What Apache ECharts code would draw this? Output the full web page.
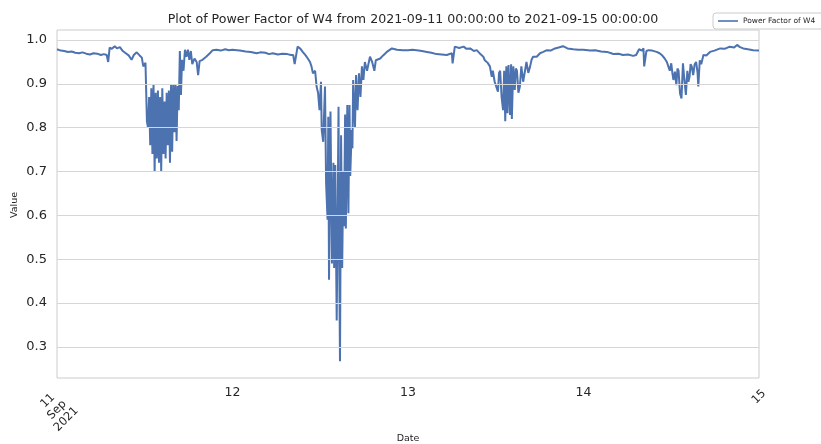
<!DOCTYPE html>
<html>
<head>
<meta charset="utf-8">
<title>Power Factor of W4</title>
<script src="https://cdn.jsdelivr.net/npm/echarts@6/dist/echarts.min.js"></script>
<style>
  html, body { margin: 0; padding: 0; background: #fff; }
  #chart { width: 821px; height: 444px; }
</style>
</head>
<body>
<div id="chart"></div>
<script>
// hours since midnight of each day, and the power factor read at that time
const sep11Hours = [0, 0.5, 1, 1.5, 2, 2.5, 3, 3.5, 4, 4.5, 5, 5.5, 6, 6.4, 6.8, 7.0, 7.2, 7.5, 7.9, 8.2, 8.6, 9.0, 9.4, 9.8, 10.2, 10.5, 10.9, 11.3, 11.6, 11.8, 12.1,
  12.3, 12.45, 12.6, 12.75, 12.9, 13.05, 13.2, 13.35, 13.5, 13.65, 13.8, 13.95, 14.1, 14.25, 14.4, 14.55, 14.7, 14.85, 15.0, 15.15, 15.3, 15.45, 15.6, 15.75, 15.9, 16.05, 16.2, 16.35, 16.5, 16.65, 16.8, 16.95,
  17.1, 17.3, 17.5, 17.7, 17.9, 18.1, 18.3, 18.5, 18.8, 19.1, 19.3, 19.5, 19.9, 20.4, 20.9, 21.3, 21.8, 22.4, 23.0, 23.5];
const sep11Values = [0.979, 0.976, 0.975, 0.973, 0.974, 0.971, 0.970, 0.972, 0.969, 0.967, 0.970, 0.969, 0.966, 0.968, 0.966, 0.950, 0.983, 0.980, 0.986, 0.981, 0.984, 0.975, 0.970, 0.965, 0.955, 0.966, 0.972, 0.965, 0.960, 0.940, 0.948,
  0.814, 0.800, 0.870, 0.760, 0.890, 0.740, 0.900, 0.700, 0.880, 0.730, 0.885, 0.720, 0.870, 0.700, 0.890, 0.740, 0.860, 0.730, 0.880, 0.760, 0.885, 0.720, 0.900, 0.745, 0.900, 0.790, 0.900, 0.770, 0.895, 0.840, 0.975, 0.875,
  0.955, 0.930, 0.978, 0.962, 0.978, 0.955, 0.975, 0.945, 0.958, 0.950, 0.920, 0.952, 0.955, 0.962, 0.970, 0.977, 0.978, 0.976, 0.979, 0.977];

const sep12Hours = [0, 0.6, 1.0, 1.8, 2.5, 3.3, 3.8, 4.5, 5.0, 5.5, 6.2, 6.8, 7.5, 8.0, 8.3, 8.5, 8.9, 9.3, 9.6, 10.0, 10.3, 10.6, 10.8, 11.0, 11.3, 11.5, 11.7, 11.9, 12.1, 12.2, 12.4, 12.65, 12.8,
  13.0, 13.1, 13.2, 13.4, 13.6, 13.8, 13.9, 14.05, 14.25, 14.5, 14.6, 14.7, 14.85, 15.0, 15.15, 15.25, 15.4, 15.5, 15.7, 15.85, 16.0, 16.1, 16.3, 16.4, 16.5, 16.75, 16.9,
  17.1, 17.3, 17.5, 17.7, 17.9, 18.1, 18.4, 18.8, 19.1, 19.4, 19.6, 20.2, 20.6, 21.1, 21.8, 22.5, 23.3];
const sep12Values = [0.978, 0.977, 0.976, 0.974, 0.973, 0.970, 0.972, 0.971, 0.968, 0.970, 0.967, 0.969, 0.968, 0.966, 0.966, 0.945, 0.985, 0.980, 0.973, 0.965, 0.958, 0.950, 0.940, 0.924, 0.930, 0.894, 0.880, 0.840, 0.905, 0.795, 0.768, 0.894, 0.673,
  0.590, 0.825, 0.453, 0.837, 0.490, 0.720, 0.480, 0.715, 0.360, 0.848, 0.490, 0.267, 0.783, 0.480, 0.700, 0.575, 0.830, 0.570, 0.852, 0.605, 0.852, 0.690, 0.795, 0.753, 0.909, 0.800, 0.920,
  0.840, 0.924, 0.870, 0.940, 0.909, 0.950, 0.930, 0.962, 0.950, 0.930, 0.954, 0.958, 0.965, 0.973, 0.981, 0.978, 0.977];

const sep13Hours = [0, 0.6, 1.2, 1.9, 2.6, 3.2, 3.9, 4.6, 5.3, 6.0, 6.1, 6.4, 7.0, 7.6, 8.0, 8.5, 9.0, 9.4, 9.9, 10.3, 10.5, 10.9, 11.2, 11.45, 11.6, 11.85, 12.1, 12.3, 12.45, 12.6, 12.8, 13.0,
  13.15, 13.3, 13.45, 13.6, 13.75, 13.95, 14.1, 14.2, 14.4, 14.6, 14.75, 14.9, 15.1, 15.3, 15.5, 15.75, 16.0, 16.2, 16.45, 16.7, 16.9, 17.1, 17.6, 18.05, 18.5, 19.0, 19.5, 20.1, 20.6, 21.2, 21.8, 22.6, 23.3];
const sep13Values = [0.977, 0.978, 0.977, 0.975, 0.973, 0.971, 0.968, 0.967, 0.966, 0.970, 0.947, 0.985, 0.982, 0.985, 0.980, 0.981, 0.975, 0.977, 0.968, 0.962, 0.954, 0.948, 0.940, 0.916, 0.930, 0.905, 0.909, 0.882, 0.925, 0.930, 0.870, 0.840,
  0.930, 0.815, 0.940, 0.833, 0.943, 0.829, 0.945, 0.820, 0.940, 0.886, 0.935, 0.930, 0.880, 0.894, 0.940, 0.905, 0.909, 0.950, 0.925, 0.940, 0.955, 0.962, 0.962, 0.970, 0.973, 0.977, 0.976, 0.981, 0.983, 0.986, 0.981, 0.979, 0.978];

const sep14Hours = [0, 0.9, 1.6, 2.4, 3.2, 3.8, 4.1, 4.8, 5.4, 6.1, 6.8, 7.2, 7.6, 8.0, 8.2, 8.3, 8.6, 8.9, 9.4, 10.0, 10.4, 10.7, 11.1, 11.4, 11.6, 11.8, 12.0, 12.15, 12.3, 12.5, 12.7, 12.85,
  13.0, 13.2, 13.4, 13.6, 13.8, 14.0, 14.2, 14.35, 14.5, 14.65, 14.8, 15.0, 15.2, 15.4, 15.6, 15.7, 15.9, 16.1, 16.4, 16.8, 17.3, 17.9, 18.7, 19.3, 20.0, 20.6, 21.0, 21.4, 21.85, 22.5, 23.2, 24.0];
const sep14Values = [0.978, 0.976, 0.977, 0.974, 0.973, 0.970, 0.968, 0.969, 0.966, 0.967, 0.964, 0.966, 0.979, 0.976, 0.981, 0.940, 0.975, 0.977, 0.976, 0.973, 0.970, 0.966, 0.958, 0.950, 0.940, 0.930, 0.947, 0.925, 0.909, 0.928, 0.897, 0.935,
  0.930, 0.878, 0.867, 0.947, 0.909, 0.875, 0.930, 0.905, 0.916, 0.945, 0.940, 0.920, 0.945, 0.950, 0.925, 0.894, 0.954, 0.945, 0.966, 0.965, 0.973, 0.976, 0.981, 0.980, 0.985, 0.983, 0.989, 0.984, 0.981, 0.979, 0.977, 0.976];

const yTicks = [0.3, 0.4, 0.5, 0.6, 0.7, 0.8, 0.9, 1.0];
const xTickDays = [12, 13, 14];

const dayMs = 24 * 3600 * 1000;
const startMs = Date.UTC(2021, 8, 11);
const endMs = Date.UTC(2021, 8, 15);

function toPoints(dayIndex, hours, values) {
  return hours.map((h, i) => [startMs + dayIndex * dayMs + h * 3600 * 1000, values[i]]);
}
const seriesData = [].concat(
  toPoints(0, sep11Hours, sep11Values),
  toPoints(1, sep12Hours, sep12Values),
  toPoints(2, sep13Hours, sep13Values),
  toPoints(3, sep14Hours, sep14Values)
);

const textColor = '#262626';
const fontFamily = 'DejaVu Sans';

// an x axis that only carries one rotated label (the first and last dates)
function edgeAxis(value, text, margin) {
  return {
    type: 'value',
    min: startMs,
    max: endMs,
    position: 'bottom',
    axisLine: { show: false },
    axisTick: { show: false },
    splitLine: { show: false },
    axisLabel: {
      customValues: [value],
      formatter: () => text,
      rotate: 45,
      align: 'center',
      verticalAlign: 'middle',
      showMinLabel: true,
      showMaxLabel: true,
      hideOverlap: false,
      fontSize: 11.5,
      lineHeight: 13,
      color: textColor,
      fontFamily: fontFamily,
      margin: margin
    }
  };
}

const chart = echarts.init(document.getElementById('chart'), null, { renderer: 'canvas' });
chart.setOption({
  animation: false,
  backgroundColor: '#ffffff',
  textStyle: { fontFamily: fontFamily },
  title: {
    text: 'Plot of Power Factor of W4 from 2021-09-11 00:00:00 to 2021-09-15 00:00:00',
    left: 408,
    top: 8,
    textAlign: 'center',
    textStyle: { fontSize: 12.6, fontWeight: 'normal', color: textColor, fontFamily: fontFamily }
  },
  legend: {
    data: [{ name: 'Power Factor of W4', icon: 'rect' }],
    left: 713,
    top: 13,
    padding: [3, 20, 3, 5],
    itemWidth: 20,
    itemHeight: 1.6,
    itemGap: 4,
    borderColor: '#cccccc',
    borderWidth: 1,
    borderRadius: 3,
    backgroundColor: '#ffffff',
    textStyle: { fontSize: 7.5, color: textColor, fontFamily: fontFamily, lineHeight: 10 }
  },
  grid: {
    left: 57,
    right: 62,
    top: 30,
    bottom: 66,
    show: true,
    borderColor: '#cccccc',
    borderWidth: 1,
    backgroundColor: 'transparent'
  },
  xAxis: [
    {
      type: 'value',
      min: startMs,
      max: endMs,
      axisLine: { show: false },
      axisTick: { show: false },
      splitLine: { show: false },
      axisLabel: {
        customValues: xTickDays.map(d => Date.UTC(2021, 8, d)),
        formatter: v => String(new Date(v).getUTCDate()),
        fontSize: 12.5,
        color: textColor,
        fontFamily: fontFamily,
        margin: 8
      }
    },
    edgeAxis(startMs, '11\nSep\n2021', 32),
    edgeAxis(endMs, '15', 19)
  ],
  yAxis: {
    type: 'value',
    min: 0.229,
    max: 1.023,
    axisLine: { show: false },
    axisTick: { show: false },
    splitLine: { show: false },
    axisLabel: {
      customValues: yTicks,
      formatter: v => v.toFixed(1),
      fontSize: 13,
      color: textColor,
      fontFamily: fontFamily,
      margin: 10
    }
  },
  graphic: [
    {
      type: 'text',
      x: 15,
      y: 205,
      rotation: Math.PI / 2,
      style: { text: 'Value', fontSize: 9.5, fill: textColor, fontFamily: fontFamily, align: 'center', verticalAlign: 'middle' }
    },
    {
      type: 'text',
      x: 408,
      y: 439,
      style: { text: 'Date', fontSize: 9.5, fill: textColor, fontFamily: fontFamily, align: 'center', verticalAlign: 'middle' }
    }
  ],
  series: [
    {
      name: 'gridlines',
      type: 'line',
      data: [],
      z: 1,
      silent: true,
      markLine: {
        silent: true,
        symbol: ['none', 'none'],
        label: { show: false },
        lineStyle: { color: '#d6d6d6', width: 1, type: 'solid' },
        data: yTicks.map(v => ({ yAxis: v }))
      }
    },
    {
      name: 'Power Factor of W4',
      type: 'line',
      data: seriesData,
      z: 3,
      symbol: 'none',
      showSymbol: false,
      color: '#4c72b0',
      lineStyle: { color: '#4c72b0', width: 2 }
    }
  ]
});
</script>
</body>
</html>
